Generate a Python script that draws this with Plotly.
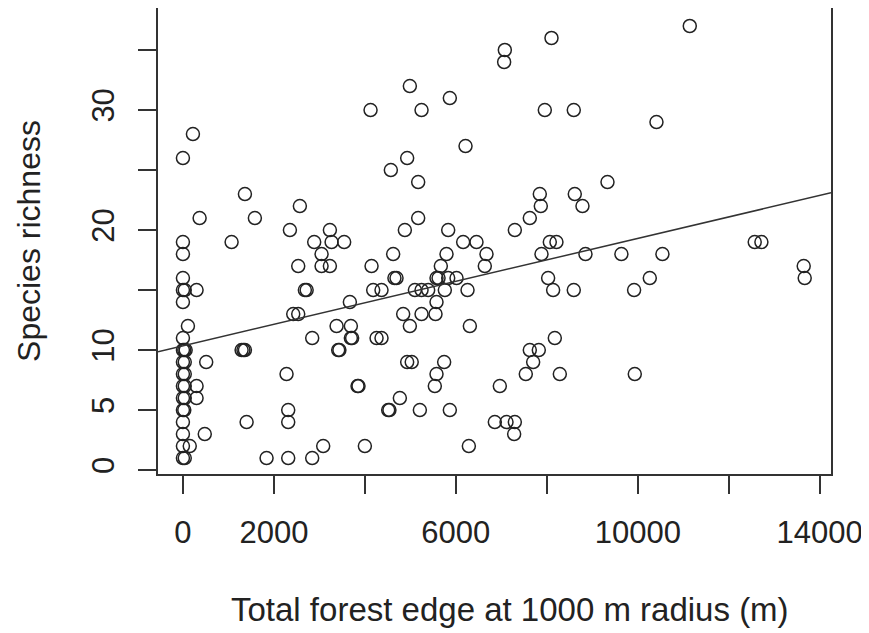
import plotly.graph_objects as go

# Total forest edge at 1000 m radius (m)
edge_m = [
    0, 220, 367, 0, 0, 0, 0, 40, 300, 0, 110, 0, 0, 30, 60, 0, 40, 0, 40, 0, 40, 300,
    0, 40, 300, 0, 30, 0, 0, 0, 150, 0, 40, 512, 480,
    1070, 1363, 1582, 2571, 2352, 3231, 2886, 3268, 3545, 3048, 2535, 3048, 3231, 4147,
    4696, 4650, 2681, 2720, 4183, 4366, 3670, 2425, 2535, 4842, 5246, 4989, 3378, 3692,
    2842, 3692, 3720, 4257, 4366, 1290, 1330, 1363, 3414, 3440, 4930, 5030, 2278, 3839,
    3860, 4769, 4513, 4540, 5209, 2315, 2315, 1400, 3084, 4000, 1839, 2315, 2842, 4989,
    4125, 5246, 4930, 4571, 5172, 5172, 4879, 4622,
    8103, 7077, 7062, 5868, 7956, 8593, 6213, 9334, 7846, 8615, 7868, 8784, 7626, 5832,
    7297, 6161, 6454, 8066, 8212, 5795, 6674, 7883, 8850, 9640, 5670, 6637, 5575, 5620,
    5832, 6015, 8029, 5100, 5246, 5392, 5758, 6257, 8139, 8593, 5575, 5553, 6308, 5743,
    5575, 5538, 7626, 7824, 8176, 7700, 7538, 8286, 6967, 5868, 6857, 7114, 7297, 7282,
    6286,
    11143, 10411, 12571, 12718, 10542, 10264, 9919, 13648, 13670, 9934,
]

# Species richness
richness = [
    26, 28, 21, 19, 18, 16, 15, 15, 15, 14, 12, 11, 10, 10, 10, 9, 9, 8, 8, 7, 7, 7,
    6, 6, 6, 5, 5, 4, 3, 2, 2, 1, 1, 9, 3,
    19, 23, 21, 22, 20, 20, 19, 19, 19, 18, 17, 17, 17, 17,
    16, 16, 15, 15, 15, 15, 14, 13, 13, 13, 13, 12, 12, 12,
    11, 11, 11, 11, 11, 10, 10, 10, 10, 10, 9, 9, 8, 7,
    7, 6, 5, 5, 5, 5, 4, 4, 2, 2, 1, 1, 1, 32,
    30, 30, 26, 25, 24, 21, 20, 18,
    36, 35, 34, 31, 30, 30, 27, 24, 23, 23, 22, 22, 21, 20,
    20, 19, 19, 19, 19, 18, 18, 18, 18, 18, 17, 17, 16, 16,
    16, 16, 16, 15, 15, 15, 15, 15, 15, 15, 14, 13, 12, 9,
    8, 7, 10, 10, 11, 9, 8, 8, 7, 5, 4, 4, 4, 3,
    2,
    37, 29, 19, 19, 18, 16, 15, 17, 16, 8,
]

# Fitted regression line
fit_intercept = 10.35
fit_slope = 0.000895

x_tickvals = [0, 2000, 4000, 6000, 8000, 10000, 12000, 14000]
x_ticktext = ["0", "2000", "", "6000", "", "10000", "", "14000"]
y_tickvals = [0, 5, 10, 15, 20, 25, 30, 35]
y_ticktext = ["0", "5", "10", "", "20", "", "30", ""]

x_title = "Total forest edge at 1000 m radius (m)"
y_title = "Species richness"

x_range = [-548, 14248]
y_range = [-0.33, 38.5]

ink = "#222222"
font_family = "Liberation Sans, Arial, sans-serif"

fig = go.Figure()
fig.add_trace(go.Scatter(
    x=edge_m, y=richness, mode="markers",
    marker=dict(symbol="circle-open", size=13, color=ink, line=dict(width=1.5, color=ink)),
    showlegend=False, hoverinfo="x+y",
))
fig.add_trace(go.Scatter(
    x=x_range, y=[fit_intercept + fit_slope * v for v in x_range], mode="lines",
    line=dict(color="#333333", width=1.5), showlegend=False, hoverinfo="skip",
))

axis_common = dict(
    showline=True, mirror=True, linecolor="#333333", linewidth=1.5,
    ticks="outside", ticklen=18, tickwidth=1.5, tickcolor="#333333",
    showgrid=False, zeroline=False,
    tickfont=dict(family=font_family, size=31, color=ink),
    tickmode="array",
)

fig.update_layout(
    width=869, height=633,
    margin=dict(l=150, r=46, t=0, b=167, autoexpand=False),
    paper_bgcolor="white", plot_bgcolor="white",
    font=dict(family=font_family, color=ink),
    xaxis=dict(
        range=x_range, tickvals=x_tickvals, ticktext=x_ticktext,
        ticklabelstandoff=12,
        **axis_common,
    ),
    yaxis=dict(
        range=y_range, tickvals=y_tickvals, ticktext=y_ticktext,
        tickangle=-90, ticklabelstandoff=12,
        title=dict(text=y_title,
                   font=dict(family=font_family, size=32, color=ink), standoff=36),
        **axis_common,
    ),
    annotations=[dict(
        text=x_title, xref="paper", yref="paper", x=0.5, y=0,
        xanchor="center", yanchor="middle", xshift=15, yshift=-135,
        showarrow=False, font=dict(family=font_family, size=33, color=ink),
    )],
)

fig.write_html("out.html")
